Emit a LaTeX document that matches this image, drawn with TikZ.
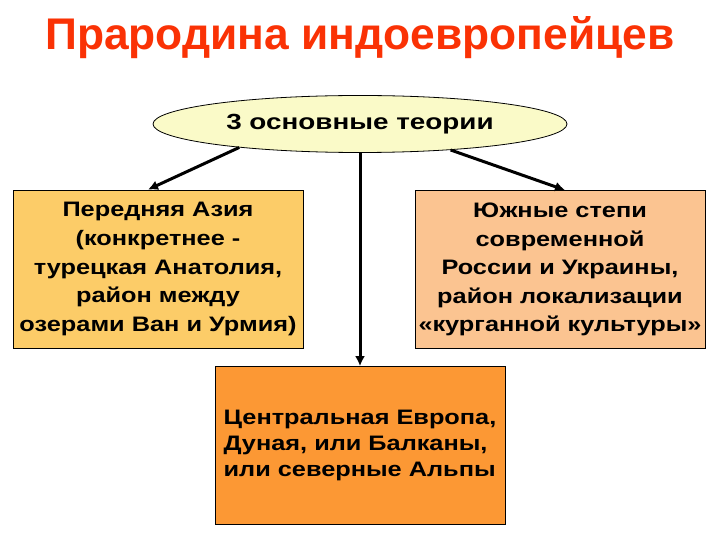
\documentclass[tikz,border=0pt]{standalone}
\usepackage{fontspec}
\setmainfont{Liberation Sans}
\newfontfamily\widefont[FakeStretch=1.21]{Liberation Sans}
\newfontfamily\ovalfont[FakeStretch=1.27]{Liberation Sans}
\usetikzlibrary{shapes.geometric,arrows.meta}

\definecolor{titlered}{RGB}{250,50,5}
\definecolor{theoryyellow}{RGB}{250,250,200}
\definecolor{asiafill}{RGB}{252,204,104}
\definecolor{steppefill}{RGB}{251,196,145}
\definecolor{europefill}{RGB}{252,152,52}

\tikzset{
  theorybox/.style={draw=black, line width=0.8bp, minimum width=290bp, minimum height=158bp,
    inner sep=0pt, align=center, font=\widefont\bfseries\fontsize{21}{28.7}\selectfont},
  link/.style={line width=3bp, -{Latex[length=10bp,width=10bp]}}
}

\begin{document}
\begin{tikzpicture}[x=1bp, y=-1bp]

\useasboundingbox [fill=white] (0,0) rectangle (720,540);

\node [anchor=base, text=titlered, font=\bfseries\fontsize{44.5}{50}\selectfont] (title) at (360, 50) {Прародина индоевропейцев};

\node [ellipse, draw, line width=0.8bp, fill=theoryyellow, minimum width=414bp, minimum height=57bp,
  inner sep=0pt, font=\ovalfont\bfseries\fontsize{22}{26}\selectfont] (theories) at (360, 124) {3 основные теории};

% The three theories
\node [theorybox, fill=asiafill] (asia) at (158, 269) {Передняя Азия\\(конкретнее -\\турецкая Анатолия,\\район между\\озерами Ван и Урмия)};
\node [theorybox, fill=steppefill] (steppe) at (560, 269.5) {Южные степи\\современной\\России и Украины,\\район локализации\\«курганной культуры»};
\node [theorybox, fill=europefill, align=left, font=\widefont\bfseries\fontsize{21}{26}\selectfont] (europe) at (360, 445.5) {Центральная Европа,\\Дуная, или Балканы,\\или северные Альпы};

% Arrows
\draw [link] (theories.191) -- ([xshift=-10bp]asia.north);
\draw [link] (theories.-16) -- ([xshift=5bp]steppe.north);
\draw [link] (theories.south) -- (europe.north);

\end{tikzpicture}
\end{document}
